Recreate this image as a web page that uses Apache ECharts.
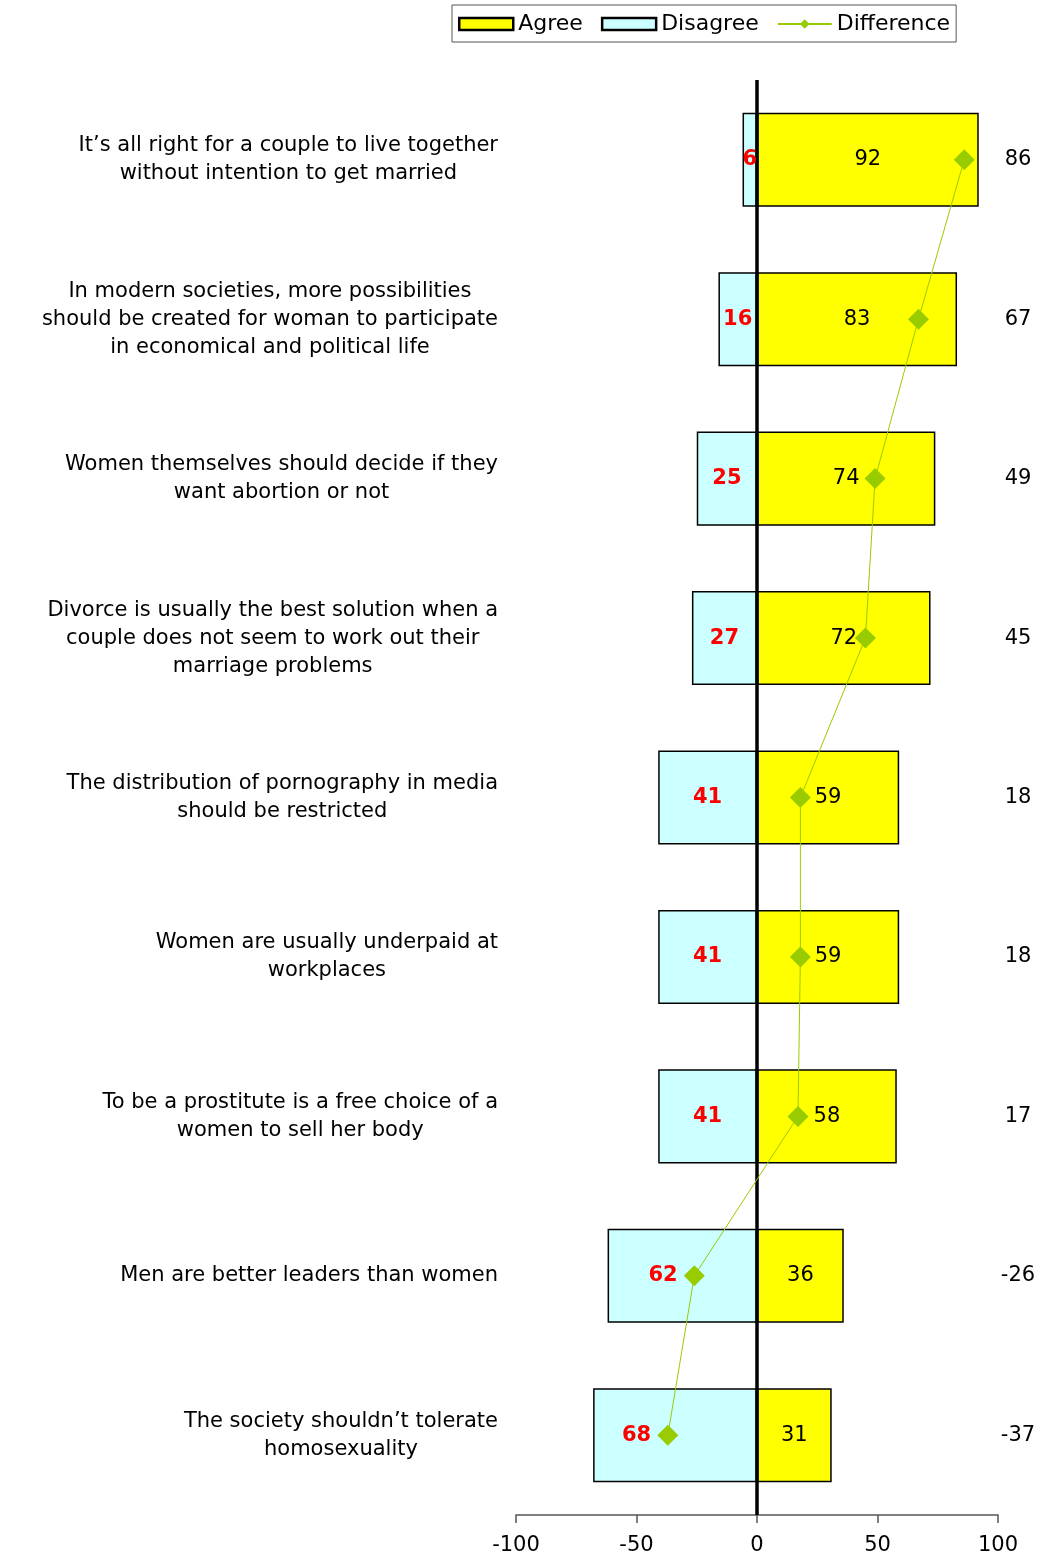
<!DOCTYPE html>
<html>
<head>
<meta charset="utf-8">
<script src="https://cdn.jsdelivr.net/npm/echarts@6/dist/echarts.min.js"></script>
<style>
html,body{margin:0;padding:0;background:#fff;}
#chart{width:1050px;height:1557px;}
</style>
</head>
<body>
<div id="chart"></div>
<script>
const categories = [
  "It’s all right for a couple to live together\nwithout intention to get married",
  "In modern societies, more possibilities\nshould be created for woman to participate\nin economical and political life",
  "Women themselves should decide if they\nwant abortion or not",
  "Divorce is usually the best solution when a\ncouple does not seem to work out their\nmarriage problems",
  "The distribution of pornography in media\nshould be restricted",
  "Women are usually underpaid at\nworkplaces",
  "To be a prostitute is a free choice of a\nwomen to sell her body",
  "Men are better leaders than women",
  "The society shouldn’t tolerate\nhomosexuality"
];
const agree = [92, 83, 74, 72, 59, 59, 58, 36, 31];
const disagree = [6, 16, 25, 27, 41, 41, 41, 62, 68];
const difference = [86, 67, 49, 45, 18, 18, 17, -26, -37];
const xTicks = [-100, -50, 0, 50, 100];

const FONT = "DejaVu Sans";
const chart = echarts.init(document.getElementById('chart'), null, {renderer: 'canvas'});

// Disagree label sits in the middle of its bar unless the difference marker
// would cover it; then it moves to the marker's outer side.
const disagreeLabelPts = disagree.map((d, i) => {
  const mid = -d / 2;
  const x = Math.abs(difference[i] - mid) < 8 ? difference[i] - 13 : mid;
  return [x, i];
});

const option = {
  backgroundColor: '#ffffff',
  animation: false,
  textStyle: {fontFamily: FONT},
  legend: {
    left: 452,
    top: 5,
    padding: [8, 6, 7, 6],
    itemGap: 18,
    itemWidth: 54,
    itemHeight: 12,
    borderColor: '#555555',
    borderWidth: 1,
    textStyle: {fontFamily: FONT, fontSize: 22, color: '#000'},
    data: [
      {name: 'Agree', icon: 'rect', itemStyle: {borderWidth: 2.5, borderColor: '#000'}},
      {name: 'Disagree', icon: 'rect', itemStyle: {borderWidth: 2.5, borderColor: '#000'}},
      {name: 'Difference'}
    ]
  },
  grid: {left: 516, right: 52, top: 80, bottom: 42, containLabel: false},
  xAxis: {
    type: 'value',
    min: xTicks[0],
    max: xTicks[xTicks.length - 1],
    interval: 50,
    position: 'bottom',
    axisLine: {show: true, onZero: false, lineStyle: {color: '#555', width: 1.5}},
    axisTick: {show: true, length: 8, lineStyle: {color: '#555', width: 1.5}},
    splitLine: {show: false},
    axisLabel: {fontFamily: FONT, fontSize: 21, color: '#000', margin: 20}
  },
  yAxis: [
    {
      type: 'category',
      inverse: true,
      data: categories,
      axisLine: {show: false},
      axisTick: {show: false},
      axisLabel: {
        margin: 18,
        align: 'right',
        formatter: v => v.split('\n').map(l => '{c|' + l + '}').join('\n'),
        rich: {c: {fontFamily: FONT, fontSize: 21, lineHeight: 28, color: '#000', align: 'center'}}
      }
    },
    {
      type: 'category',
      inverse: true,
      position: 'right',
      data: categories,
      axisLine: {show: false},
      axisTick: {show: false},
      axisLabel: {
        margin: 20,
        align: 'center',
        fontFamily: FONT,
        fontSize: 21,
        color: '#000',
        padding: [0, 0, 6, 0],
        formatter: (v, i) => String(difference[i])
      }
    }
  ],
  series: [
    {
      name: 'Agree',
      type: 'bar',
      stack: 'total',
      barWidth: '59%',
      data: agree,
      itemStyle: {color: '#FFFF00', borderColor: '#000', borderWidth: 1.5},
      label: {show: true, position: 'inside', fontFamily: FONT, fontSize: 21, color: '#000'},
      markLine: {
        silent: true,
        symbol: 'none',
        label: {show: false},
        lineStyle: {color: '#000', width: 3.5, type: 'solid'},
        data: [{xAxis: 0}],
        z: 5
      }
    },
    {
      name: 'Disagree',
      type: 'bar',
      stack: 'total',
      barWidth: '59%',
      data: disagree.map(v => -v),
      itemStyle: {color: '#CCFFFF', borderColor: '#000', borderWidth: 1.5},
      label: {show: false}
    },
    {
      name: 'Difference',
      type: 'line',
      data: difference,
      symbol: 'diamond',
      symbolSize: 21,
      z: 10,
      itemStyle: {color: '#99CC00'},
      lineStyle: {color: '#99CC00', width: 1}
    },
    {
      name: 'DisagreeLabels',
      type: 'scatter',
      data: disagreeLabelPts,
      symbolSize: 0,
      silent: true,
      z: 12,
      itemStyle: {opacity: 1},
      label: {
        show: true, position: 'inside', fontFamily: FONT, fontSize: 21,
        fontWeight: 'bold', color: '#FF0000', opacity: 1,
        formatter: p => String(disagree[p.dataIndex])
      }
    }
  ]
};
chart.setOption(option);
</script>
</body>
</html>
